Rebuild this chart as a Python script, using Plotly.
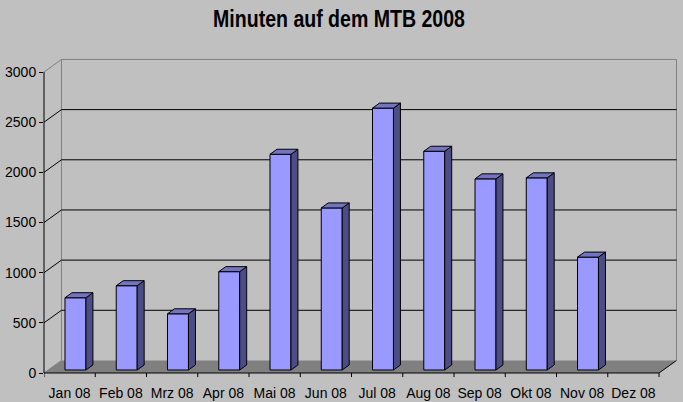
import plotly.graph_objects as go

months = ["Jan 08", "Feb 08", "Mrz 08", "Apr 08", "Mai 08", "Jun 08",
          "Jul 08", "Aug 08", "Sep 08", "Okt 08", "Nov 08", "Dez 08"]
minutes = [720, 840, 560, 980, 2150, 1615, 2610, 2180, 1905, 1915, 1125, None]
y_ticks = [0, 500, 1000, 1500, 2000, 2500, 3000]
title = "Minuten auf dem MTB 2008"

BG, WALL, FLOOR = "#C0C0C0", "#808080", "#808080"
FRONT, SIDE, TOP = "#9999FF", "#4D4D85", "#7373BF"

# pseudo-3D projection, in axis units
DEPTH_X, DEPTH_Y = 0.341, 125      # wall behind the axis plane
BAR_X, BAR_BASE = 0.114, 30        # bar position inside the floor depth
BAR_W, BAR_DX, BAR_DY = 0.409, 0.136, 50

n = len(months)
centers = [i + 0.5 + BAR_X for i in range(n)]

shapes = []
def poly(pts, fill=None, line=None, width=1):
    path = "M " + " L ".join(f"{x},{y}" for x, y in pts) + " Z"
    shapes.append(dict(type="path", path=path, xref="x", yref="y", layer="below",
                       fillcolor=fill or "rgba(0,0,0,0)",
                       line=dict(color=line or "rgba(0,0,0,0)", width=width)))
def seg(x0, y0, x1, y1, color="black", xref="x", yref="y"):
    shapes.append(dict(type="line", x0=x0, y0=y0, x1=x1, y1=y1, xref=xref, yref=yref,
                       layer="below", line=dict(color=color, width=1)))

# floor
poly([(0, 0), (DEPTH_X, DEPTH_Y), (n + DEPTH_X, DEPTH_Y), (n, 0)], fill=FLOOR)
seg(n, 0, n + DEPTH_X, DEPTH_Y)
# back wall edges
seg(DEPTH_X, DEPTH_Y, DEPTH_X, y_ticks[-1] + DEPTH_Y, WALL)
seg(n + DEPTH_X, DEPTH_Y, n + DEPTH_X, y_ticks[-1] + DEPTH_Y, WALL)
# gridlines and their diagonals
for t in y_ticks[1:]:
    c = WALL if t == y_ticks[-1] else "black"
    seg(DEPTH_X, t + DEPTH_Y, n + DEPTH_X, t + DEPTH_Y, c)
    seg(0, t, DEPTH_X, t + DEPTH_Y, c)
seg(0, 0, DEPTH_X, DEPTH_Y, WALL)

fig = go.Figure()
fig.add_trace(go.Bar(x=centers, y=minutes, base=BAR_BASE, width=BAR_W,
                     marker=dict(color=FRONT, line=dict(color="black", width=1)),
                     hoverinfo="x+y"))

side_x, side_y, top_x, top_y = [], [], [], []
for c, v in zip(centers, minutes):
    if v is None:
        continue
    l, r = c - BAR_W / 2, c + BAR_W / 2
    t = BAR_BASE + v
    side_x += [r, r + BAR_DX, r + BAR_DX, r, r, None]
    side_y += [BAR_BASE, BAR_BASE + BAR_DY, t + BAR_DY, t, BAR_BASE, None]
    top_x += [l, l + BAR_DX, r + BAR_DX, r, l, None]
    top_y += [t, t + BAR_DY, t + BAR_DY, t, t, None]
for xs, ys, col in ((side_x, side_y, SIDE), (top_x, top_y, TOP)):
    fig.add_trace(go.Scatter(x=xs, y=ys, mode="lines", fill="toself", fillcolor=col,
                             line=dict(color="black", width=1), hoverinfo="skip"))

# front axis lines and the month-boundary ticks below the axis
axis_shapes = [
    dict(type="line", xref="paper", yref="y", x0=0, x1=0, y0=0, y1=y_ticks[-1],
         line=dict(color="black", width=1), layer="above"),
    dict(type="line", xref="x", yref="paper", x0=0, x1=n, y0=0, y1=0,
         line=dict(color="black", width=1), layer="above"),
]
for i in range(n + 1):
    axis_shapes.append(dict(type="line", xref="x", yref="paper", x0=i, x1=i, y0=0, y1=-0.013,
                            line=dict(color="black", width=1), layer="above"))

font = "Liberation Sans, Arial, sans-serif"
fig.update_layout(
    width=683, height=402, showlegend=False,
    paper_bgcolor=BG, plot_bgcolor=BG,
    margin=dict(l=43.5, r=5, t=58, b=29, autoexpand=False),
    font=dict(family=font, size=14, color="black"),
    title=dict(text=f"<b>{title}</b>", x=339 / 683, xanchor="center", y=0.952, yanchor="middle",
               font=dict(family=font, size=23, color="black")),
    shapes=shapes + axis_shapes,
    xaxis=dict(range=[0, 12.37], showgrid=False, zeroline=False, showline=False, automargin=False,
               tickmode="array", tickvals=[i + 0.5 for i in range(n)], ticktext=months,
               ticks="outside", ticklen=7, tickcolor="rgba(0,0,0,0)", tickangle=0),
    yaxis=dict(range=[0, 3139.5], showgrid=False, zeroline=False, showline=False, automargin=False,
               tickmode="array", tickvals=y_ticks, ticks="outside", ticklen=4,
               tickcolor="black", tickwidth=1),
)
post = """
document.documentElement.style.background='#C0C0C0';
document.body.style.margin='0';
var g=document.querySelector('.gtitle');
if(g){g.setAttribute('transform','translate(339,0) scale(0.85,1) translate(-339,0)');}
"""
fig.write_html("out.html", post_script=post, config={"displayModeBar": False})
